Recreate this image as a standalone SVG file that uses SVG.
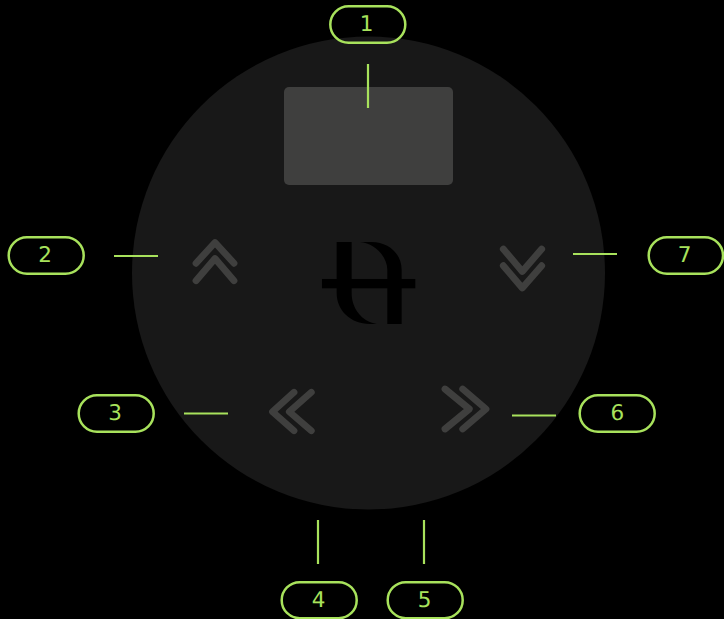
<svg xmlns="http://www.w3.org/2000/svg" width="724" height="619" viewBox="0 0 724 619">
<style>
.p{fill:none;stroke:#a8e25c;stroke-width:2.500}
.c{fill:none;stroke:#3f3f3e;stroke-width:6.800;stroke-linecap:round;stroke-linejoin:round}
.l{stroke:#a8e25c;stroke-width:2.200;fill:none}
text{font-family:"DejaVu Sans",sans-serif;font-size:21.500px;fill:#a8e25c;text-anchor:middle;text-rendering:geometricPrecision}
</style>
<rect width="724" height="619" fill="#000"/>
<g id="device">
<circle cx="368.500" cy="273" r="236.500" fill="#181818"/>
<rect x="284" y="87" width="169" height="98" rx="5" fill="#3f3f3e"/>
<g transform="translate(300 220) scale(.3333)" fill="#000">
<rect x="66" y="177" width="280" height="28"/>
<path d="M180 66H215C265 66 305 100 305 150V312H262V150C262 110 225 70 180 66Z"/>
<path d="M110 66H155V220C155 265 185 305 230 312H210C150 312 110 270 110 220Z"/>
</g>
<path class="c" d="M196 263.300L215 242.500L234 263.300M196 280.700L215 258.500L234 280.700"/>
<path class="c" d="M294 392.300L272.500 411.700L294 430.700M311.300 392.300L289.300 411.700L311.300 430.700"/>
<path class="c" d="M445 389L469.300 409L445 429M462.700 389L486 409L462.700 429"/>
<path class="c" d="M503.300 249L522.300 271.500L541.700 249M503.300 265.700L522.300 288L541.700 265.700"/>
</g>
<g id="connectors">
<path class="l" d="M368 64V108M114 256H158M184 413.500H228M318 520V564M424 520V564M512 415.500H556M573 254H617"/>
</g>
<g id="n1"><rect class="p" x="330.300" y="6.200" width="75" height="36.500" rx="18.250"/><text x="366.500" y="31">1</text></g>
<g id="n2"><rect class="p" x="8.700" y="237.200" width="75" height="36.500" rx="18.250"/><text x="45" y="262">2</text></g>
<g id="n3"><rect class="p" x="78.700" y="395.200" width="75" height="36.500" rx="18.250"/><text x="115" y="420">3</text></g>
<g id="n4"><rect class="p" x="281.700" y="582.200" width="75" height="36" rx="18"/><text x="318.500" y="607">4</text></g>
<g id="n5"><rect class="p" x="387.700" y="582.200" width="75" height="36" rx="18"/><text x="424.500" y="607">5</text></g>
<g id="n6"><rect class="p" x="579.700" y="395.200" width="75" height="36.500" rx="18.250"/><text x="617.300" y="420">6</text></g>
<g id="n7"><rect class="p" x="648.700" y="237.200" width="74.300" height="36.500" rx="18.250"/><text x="684.500" y="262">7</text></g>
</svg>
